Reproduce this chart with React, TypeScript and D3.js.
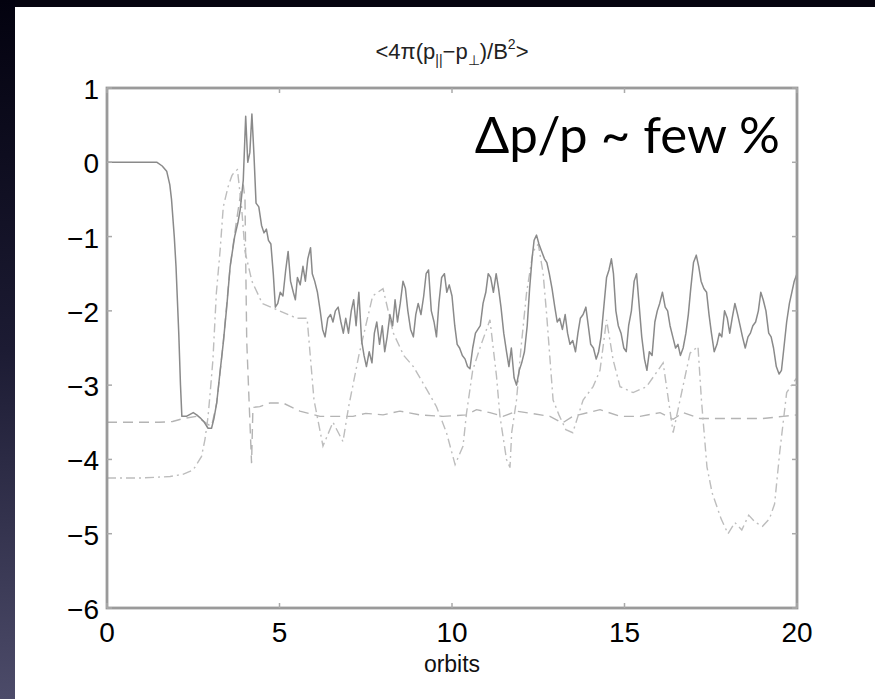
import React from "react";
import * as d3 from "d3";

const xTicks = [0, 5, 10, 15, 20];
const yTicks = [1, 0, -1, -2, -3, -4, -5, -6];

const solidSeries: [number, number][] = [
  [0, 0], [0.5, 0], [1.0, 0], [1.45, 0], [1.6, -0.05], [1.73, -0.12], [1.82, -0.3], [1.87, -0.5], [1.95, -1.0], [2.0, -1.4], [2.08, -2.3], [2.13, -3.0], [2.17, -3.42], [2.3, -3.42], [2.5, -3.37], [2.6, -3.4], [2.7, -3.44], [2.82, -3.5], [2.93, -3.58], [3.03, -3.58], [3.1, -3.45], [3.18, -3.24], [3.27, -2.85], [3.37, -2.43], [3.47, -1.95], [3.57, -1.4], [3.7, -1.0], [3.8, -0.8], [3.86, -0.64], [3.95, -0.24], [4.02, 0.62], [4.08, 0.0], [4.14, 0.13], [4.2, 0.65], [4.26, 0.1], [4.32, -0.55], [4.4, -0.6], [4.48, -0.85], [4.55, -0.95], [4.62, -0.9], [4.68, -1.05], [4.75, -1.1], [4.82, -1.5], [4.88, -1.95], [4.95, -1.9], [5.02, -1.75], [5.1, -1.8], [5.18, -1.45], [5.25, -1.2], [5.32, -1.6], [5.4, -1.75], [5.46, -1.85], [5.52, -1.55], [5.6, -1.65], [5.68, -1.4], [5.75, -1.6], [5.82, -1.3], [5.9, -1.15], [5.95, -1.5], [6.02, -1.6], [6.1, -1.75], [6.18, -2.0], [6.25, -2.25], [6.32, -2.35], [6.4, -2.1], [6.48, -2.05], [6.55, -2.15], [6.62, -2.0], [6.7, -1.95], [6.78, -2.15], [6.85, -2.3], [6.92, -2.1], [7.0, -2.3], [7.08, -2.0], [7.15, -1.85], [7.22, -2.2], [7.3, -1.75], [7.38, -2.4], [7.45, -2.6], [7.52, -2.75], [7.6, -2.55], [7.68, -2.7], [7.75, -2.3], [7.82, -2.15], [7.9, -2.45], [7.98, -2.2], [8.05, -2.55], [8.12, -2.35], [8.2, -2.05], [8.28, -2.2], [8.35, -1.85], [8.42, -2.15], [8.5, -1.9], [8.58, -1.6], [8.65, -1.7], [8.72, -2.0], [8.8, -2.25], [8.88, -2.35], [8.95, -2.05], [9.02, -1.9], [9.1, -2.05], [9.18, -1.8], [9.25, -1.5], [9.32, -1.45], [9.4, -2.0], [9.48, -2.15], [9.55, -2.35], [9.62, -1.9], [9.7, -1.55], [9.78, -1.5], [9.85, -1.75], [9.92, -1.65], [10.0, -1.8], [10.08, -2.2], [10.15, -2.45], [10.22, -2.5], [10.3, -2.6], [10.38, -2.65], [10.45, -2.75], [10.52, -2.78], [10.6, -2.5], [10.68, -2.3], [10.75, -2.25], [10.82, -2.2], [10.9, -1.9], [10.98, -1.75], [11.05, -1.5], [11.12, -1.55], [11.2, -1.75], [11.28, -1.5], [11.35, -1.7], [11.42, -1.95], [11.5, -2.3], [11.58, -2.55], [11.65, -2.75], [11.72, -2.5], [11.8, -2.9], [11.87, -3.0], [11.95, -2.8], [12.02, -2.7], [12.1, -2.55], [12.18, -2.2], [12.25, -1.7], [12.32, -1.3], [12.38, -1.05], [12.45, -0.98], [12.52, -1.1], [12.6, -1.2], [12.68, -1.3], [12.75, -1.35], [12.82, -1.5], [12.9, -1.7], [12.98, -1.95], [13.05, -2.15], [13.12, -2.1], [13.2, -2.25], [13.28, -2.05], [13.35, -2.3], [13.42, -2.45], [13.5, -2.4], [13.58, -2.55], [13.65, -2.3], [13.72, -2.1], [13.8, -2.05], [13.88, -1.95], [13.95, -2.2], [14.02, -2.45], [14.1, -2.5], [14.18, -2.65], [14.25, -2.55], [14.32, -2.35], [14.4, -1.95], [14.48, -1.55], [14.55, -1.45], [14.62, -1.3], [14.68, -1.5], [14.75, -2.0], [14.82, -2.2], [14.9, -2.3], [14.98, -2.5], [15.05, -2.55], [15.12, -2.2], [15.2, -2.0], [15.28, -1.6], [15.35, -1.5], [15.42, -1.9], [15.5, -2.35], [15.58, -2.65], [15.65, -2.8], [15.72, -2.55], [15.8, -2.6], [15.88, -2.15], [15.95, -2.0], [16.02, -1.9], [16.1, -1.75], [16.18, -1.95], [16.25, -2.0], [16.32, -2.2], [16.4, -2.35], [16.48, -2.5], [16.55, -2.45], [16.62, -2.6], [16.7, -2.5], [16.78, -2.3], [16.85, -2.05], [16.92, -1.7], [17.0, -1.35], [17.08, -1.25], [17.15, -1.4], [17.22, -1.6], [17.3, -1.7], [17.38, -1.75], [17.45, -2.05], [17.52, -2.3], [17.6, -2.55], [17.68, -2.45], [17.75, -2.3], [17.82, -2.35], [17.9, -2.0], [17.98, -2.1], [18.05, -2.3], [18.12, -2.1], [18.2, -1.9], [18.28, -2.05], [18.35, -2.2], [18.42, -2.35], [18.5, -2.5], [18.58, -2.35], [18.65, -2.3], [18.72, -2.2], [18.8, -2.15], [18.88, -2.0], [18.95, -1.75], [19.02, -1.85], [19.1, -2.0], [19.18, -2.3], [19.25, -2.35], [19.32, -2.5], [19.4, -2.75], [19.48, -2.85], [19.55, -2.8], [19.62, -2.5], [19.7, -2.15], [19.78, -1.9], [19.85, -1.75], [19.92, -1.6], [20.0, -1.5],
];

const dashDotSeries: [number, number][] = [
  [0, -4.25], [1.0, -4.25], [1.83, -4.23], [2.2, -4.2], [2.5, -4.14], [2.74, -3.96], [2.84, -3.73], [2.93, -3.42], [3.0, -3.05], [3.07, -2.66], [3.17, -1.76], [3.28, -1.18], [3.37, -0.6], [3.51, -0.33], [3.62, -0.18], [3.71, -0.12], [3.78, -0.1], [3.9, -0.6], [4.0, -1.2], [4.2, -1.6], [4.5, -1.9], [5.0, -2.0], [5.5, -2.1], [5.8, -2.1], [6.0, -3.2], [6.26, -3.82], [6.55, -3.5], [6.84, -3.76], [7.0, -3.3], [7.3, -2.6], [7.7, -1.8], [8.0, -1.7], [8.3, -2.3], [8.6, -2.6], [8.88, -2.75], [9.27, -3.06], [9.55, -3.29], [9.84, -3.64], [10.09, -4.07], [10.32, -3.82], [10.42, -3.38], [10.6, -2.8], [10.81, -2.5], [11.1, -2.12], [11.29, -2.88], [11.39, -3.42], [11.58, -4.0], [11.68, -4.11], [11.73, -3.64], [11.87, -3.2], [12.0, -2.5], [12.16, -1.76], [12.35, -1.2], [12.5, -1.1], [12.64, -1.49], [12.74, -2.03], [12.93, -3.2], [13.1, -3.4], [13.3, -3.6], [13.5, -3.64], [13.8, -3.2], [14.09, -3.02], [14.29, -2.8], [14.48, -2.12], [14.67, -2.66], [14.87, -3.02], [15.25, -3.1], [15.64, -3.02], [16.12, -2.7], [16.41, -3.64], [16.61, -3.2], [16.9, -2.57], [17.13, -2.48], [17.23, -3.2], [17.39, -4.1], [17.54, -4.45], [17.8, -4.8], [18.0, -5.0], [18.2, -4.85], [18.4, -4.95], [18.6, -4.75], [18.8, -4.85], [19.0, -4.9], [19.2, -4.8], [19.35, -4.6], [19.5, -3.9], [19.7, -3.1], [19.9, -2.96], [20, -2.9],
];

const dashedSeries: [number, number][] = [
  [0, -3.5], [1.5, -3.5], [1.9, -3.49], [2.2, -3.45], [2.6, -3.42], [2.9, -3.52], [3.03, -3.56], [3.18, -3.24], [3.37, -2.43], [3.57, -1.4], [3.75, -0.8], [3.88, -0.4], [3.95, -0.3], [4.0, -0.5], [4.02, -1.3], [4.05, -2.4], [4.1, -3.0], [4.19, -4.05], [4.23, -3.3], [4.43, -3.29], [4.72, -3.24], [5.1, -3.24], [5.59, -3.35], [6.17, -3.42], [6.75, -3.42], [7.13, -3.42], [7.5, -3.38], [8.0, -3.4], [8.49, -3.35], [9.07, -3.4], [9.74, -3.42], [10.42, -3.4], [10.71, -3.33], [11.1, -3.37], [11.48, -3.42], [11.87, -3.35], [12.3, -3.38], [12.84, -3.42], [13.2, -3.51], [13.5, -3.42], [14.29, -3.33], [14.87, -3.42], [15.45, -3.42], [16.03, -3.37], [16.41, -3.46], [16.7, -3.37], [17.19, -3.45], [18.0, -3.45], [19.0, -3.45], [19.6, -3.42], [20, -3.4],
];

const W = 875;
const H = 699;
const PLOT = { left: 107, right: 797, top: 88, bottom: 608 };

export default function App() {
  const x = d3.scaleLinear().domain([0, 20]).range([PLOT.left, PLOT.right]);
  const y = d3.scaleLinear().domain([-6, 1]).range([PLOT.bottom, PLOT.top]);
  const line = d3
    .line<[number, number]>()
    .x((d) => x(d[0]))
    .y((d) => y(d[1]));

  const labelFont = "'Liberation Sans', Arial, sans-serif";
  const tickLen = 5;

  return (
    <div style={{ position: "fixed", left: 0, top: 0, width: W, height: H }}>
      <svg width={W} height={H} style={{ display: "block" }}>
        <defs>
          <linearGradient id="leftStrip" x1="0" y1="0" x2="0" y2="1">
            <stop offset="0" stopColor="#03020f" />
            <stop offset="0.5" stopColor="#1c1b33" />
            <stop offset="1" stopColor="#4c4b69" />
          </linearGradient>
          <clipPath id="plotClip">
            <rect x={PLOT.left} y={PLOT.top - 10} width={PLOT.right - PLOT.left} height={PLOT.bottom - PLOT.top + 10} />
          </clipPath>
        </defs>
        <rect x={0} y={0} width={W} height={H} fill="#05040f" />
        <rect x={0} y={0} width={15} height={H} fill="url(#leftStrip)" />
        <rect x={15} y={7} width={W - 15} height={H - 7} fill="#ffffff" />

        <text x={x(10)} y={59} textAnchor="middle" fontFamily={labelFont} fontSize={22} fill="#222">
          &lt;4π(p<tspan fontSize={14} dy={6}>||</tspan>
          <tspan dy={-6}>−p</tspan>
          <tspan fontSize={14} dy={6}>⊥</tspan>
          <tspan dy={-6}>)/B</tspan>
          <tspan fontSize={14} dy={-10}>2</tspan>
          <tspan dy={10}>&gt;</tspan>
        </text>

        <g clipPath="url(#plotClip)" fill="none">
          <path d={line(dashedSeries) || ""} stroke="#b4b4b4" strokeWidth={1.4} strokeDasharray="10,6" />
          <path d={line(dashDotSeries) || ""} stroke="#bdbdbd" strokeWidth={1.4} strokeDasharray="9,4,2,4" />
          <path d={line(solidSeries) || ""} stroke="#8a8a8a" strokeWidth={1.5} strokeLinejoin="round" />
        </g>

        <rect
          x={PLOT.left}
          y={PLOT.top}
          width={PLOT.right - PLOT.left}
          height={PLOT.bottom - PLOT.top}
          fill="none"
          stroke="#9a9a9a"
          strokeWidth={2.8}
        />
        {xTicks.map((t) => (
          <g key={"xt" + t}>
            <line x1={x(t)} x2={x(t)} y1={PLOT.bottom} y2={PLOT.bottom - tickLen} stroke="#aaa" strokeWidth={1.5} />
            <line x1={x(t)} x2={x(t)} y1={PLOT.top} y2={PLOT.top + tickLen} stroke="#aaa" strokeWidth={1.5} />
            <text x={x(t)} y={642} textAnchor="middle" fontFamily={labelFont} fontSize={28} fill="#000">
              {t}
            </text>
          </g>
        ))}
        {yTicks.map((t) => (
          <g key={"yt" + t}>
            <line x1={PLOT.left} x2={PLOT.left + tickLen} y1={y(t)} y2={y(t)} stroke="#aaa" strokeWidth={1.5} />
            <line x1={PLOT.right} x2={PLOT.right - tickLen} y1={y(t)} y2={y(t)} stroke="#aaa" strokeWidth={1.5} />
            <text x={99} y={y(t) + 11} textAnchor="end" fontFamily={labelFont} fontSize={28} fill="#000">
              {t < 0 ? "−" + Math.abs(t) : String(t)}
            </text>
          </g>
        ))}
        <text x={x(10)} y={672} textAnchor="middle" fontFamily={labelFont} fontSize={23} fill="#111">
          orbits
        </text>

        <text x={780} y={153} textAnchor="end" fontFamily="Lato, 'Open Sans', sans-serif" fontSize={51} fill="#000">
          Δp/p ~ few %
        </text>
      </svg>
    </div>
  );
}
